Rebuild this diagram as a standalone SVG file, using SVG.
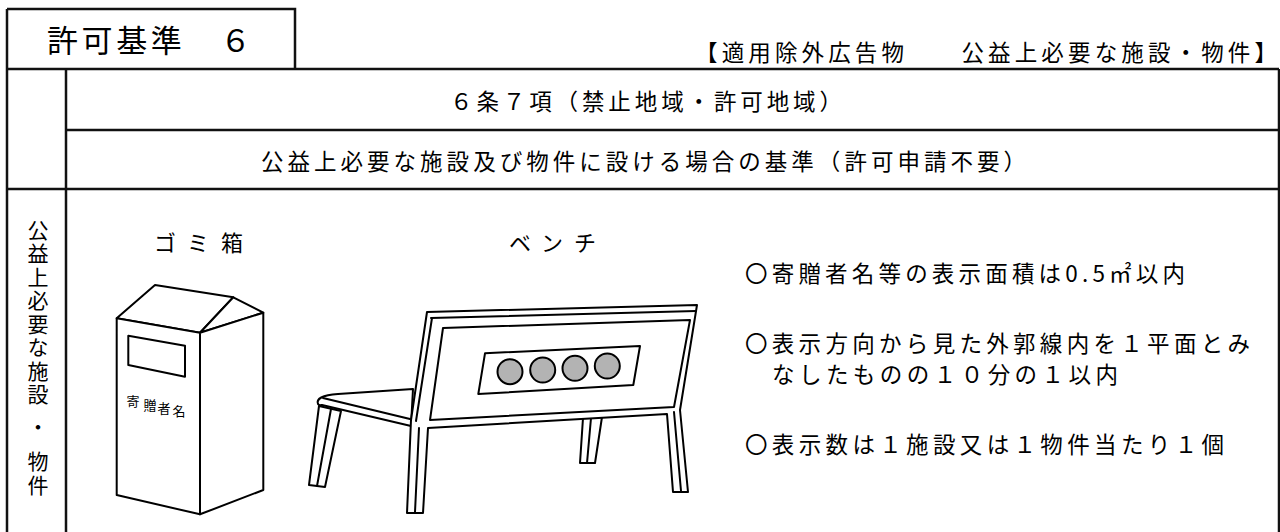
<svg xmlns="http://www.w3.org/2000/svg" width="1280" height="532" viewBox="0 0 1280 532">
<defs>
<style>
.t{font-family:"Noto Sans CJK JP","Noto Sans CJK SC",sans-serif;fill:#000;}
.ln{stroke:#111;stroke-width:2.5;fill:none;}
.d{stroke:#000;stroke-width:2;fill:#fff;stroke-linejoin:round;}
.dl{stroke:#000;stroke-width:2;fill:none;stroke-linecap:round;}
.c{stroke:#000;stroke-width:2;fill:#b3b3b3;}
</style>
</defs>
<rect width="1280" height="532" fill="#fff"/>

<g id="table">
<path class="ln" d="M7,9 H295 V69 M7,9 V532 M7,69 H1279 M1279,69 V532 M66,69 V532 M66,130 H1279 M7,189 H1279"/>
</g>

<g id="title">
<text class="t" x="47" y="52" font-size="31" textLength="204" lengthAdjust="spacing">許可基準　６</text>
</g>

<g id="category">
<text class="t" x="695" y="61" font-size="22.5" textLength="582" lengthAdjust="spacing">【適用除外広告物　　公益上必要な施設・物件】</text>
</g>

<g id="row-article">
<text class="t" x="450" y="109.5" font-size="22.5" textLength="392" lengthAdjust="spacing">６条７項（禁止地域・許可地域）</text>
</g>

<g id="row-standard">
<text class="t" x="261" y="169.5" font-size="22.5" textLength="765" lengthAdjust="spacing">公益上必要な施設及び物件に設ける場合の基準（許可申請不要）</text>
</g>

<g id="side-label">
<text class="t" font-size="21" x="38" y="219.5" writing-mode="vertical-rl" letter-spacing="2.5">公益上必要な施設<tspan dy="9">・</tspan><tspan dy="10.5">物件</tspan></text>
</g>

<g id="trash-bin">
<text class="t" font-size="22" text-anchor="middle" x="165 198 232" y="251">ゴミ箱</text>
<polygon class="d" points="116.7,318.3 155,285 233.3,297.3 200,332.7"/>
<polygon class="d" points="200,332.7 233.3,297.3 263.3,312.7"/>
<polygon class="d" points="116.7,318.3 200,332.7 200,514.3 116.7,495"/>
<polygon class="d" points="200,332.7 263.3,312.7 263.3,490 200,514.3"/>
<polygon class="d" points="128.3,335.7 185,345.7 185,376.7 128.3,365"/>
<text class="t" font-size="13" text-anchor="middle" x="133 150 164 179" y="406 410 413 416">寄贈者名</text>
</g>

<g id="bench">
<text class="t" font-size="22" text-anchor="middle" x="520 552 585" y="251">ベンチ</text>
<polygon class="d" points="319,406 341,411 325,487 309,485"/>
<line class="dl" x1="331" y1="409" x2="317" y2="486"/>
<polygon class="d" points="583,418 602,417 595,463 580,463"/>
<line class="dl" x1="591" y1="418" x2="587" y2="463"/>
<path class="d" d="M413,389 L338,394 C322,395 316,399 318,404 C319,406 321,405 322,405 L411,426 Z"/>
<line class="dl" x1="323" y1="398" x2="410" y2="419"/>
<polygon class="d" points="427,312 697,305 680,410 688,492 673,492 667,414 428,428 423,513 407,513 411,420"/>
<line class="dl" x1="431" y1="318" x2="696" y2="311"/>
<line class="dl" x1="432" y1="318" x2="416" y2="421"/>
<line class="dl" x1="674" y1="412" x2="681" y2="491"/>
<line class="dl" x1="419" y1="428" x2="415" y2="512"/>
<polygon class="d" points="443,328 690,320 674,407 430,420"/>
<polygon class="d" points="485,353.3 640,346 633.3,385 478.3,394"/>
<circle class="c" cx="510" cy="371.7" r="12.5"/>
<circle class="c" cx="542.7" cy="370" r="12.5"/>
<circle class="c" cx="575" cy="368.3" r="12.5"/>
<circle class="c" cx="607.3" cy="366" r="12.5"/>
</g>

<g id="notes">
<text class="t" x="745" y="281.5" font-size="22.5" textLength="440" lengthAdjust="spacing">〇寄贈者名等の表示面積は0.5㎡以内</text>
<text class="t" x="745" y="351.5" font-size="22.5" textLength="505" lengthAdjust="spacing">〇表示方向から見た外郭線内を１平面とみ</text>
<text class="t" x="772" y="382.5" font-size="22.5" textLength="346" lengthAdjust="spacing">なしたものの１０分の１以内</text>
<text class="t" x="745" y="452.5" font-size="22.5" textLength="479" lengthAdjust="spacing">〇表示数は１施設又は１物件当たり１個</text>
</g>

<g id="connectors"/>
</svg>
